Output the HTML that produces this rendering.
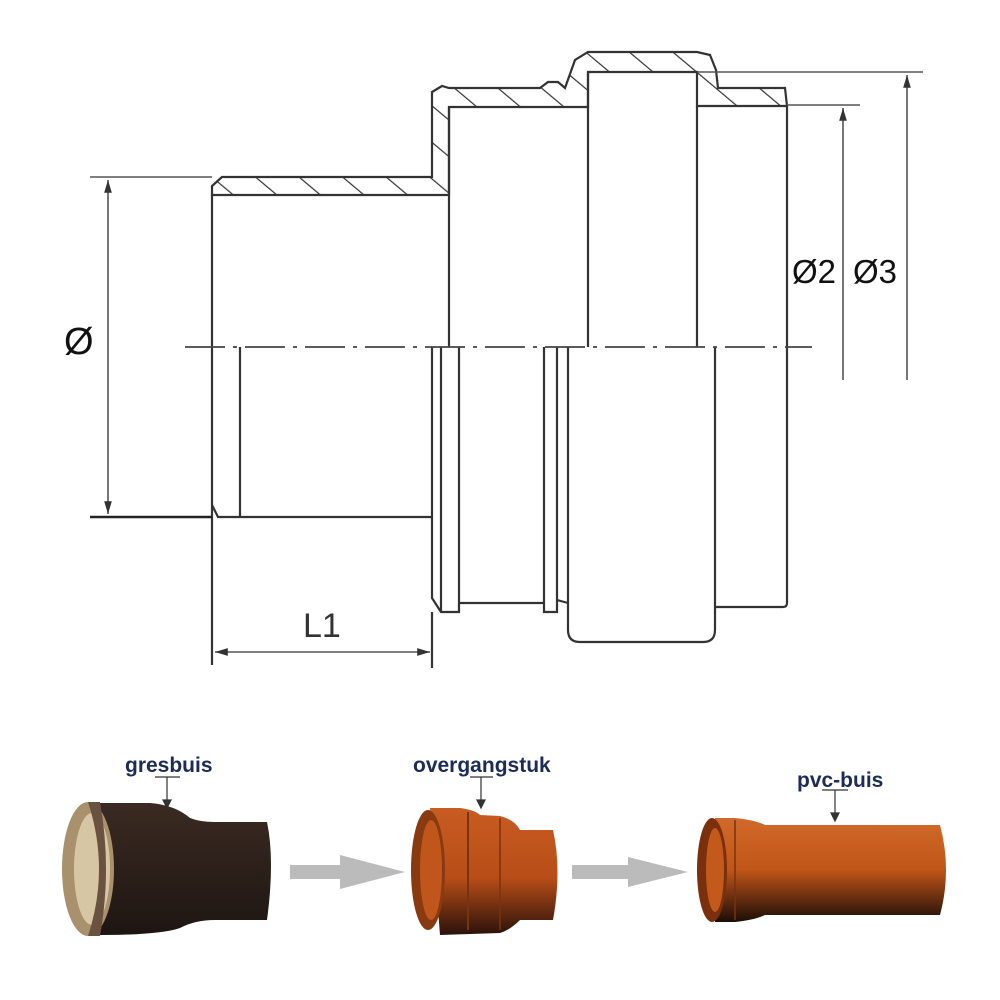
<!DOCTYPE html>
<html><head><meta charset="utf-8"><style>
html,body{margin:0;padding:0;background:#fff;}
svg{display:block;}
.l{stroke:#333;stroke-width:2.2;fill:none;}
.t{stroke:#555;stroke-width:1.6;fill:none;}
.lb{font-family:"Liberation Sans",sans-serif;font-weight:bold;fill:#1b2b5c;font-size:21px;}
</style></head><body>
<svg width="1000" height="1000" viewBox="0 0 1000 1000" xmlns="http://www.w3.org/2000/svg">
<defs>
<pattern id="h" patternUnits="userSpaceOnUse" width="28" height="28" patternTransform="rotate(-50)">
<rect width="28" height="28" fill="#fff"/><line x1="0" y1="0" x2="0" y2="28" stroke="#333" stroke-width="2.4"/></pattern>
<linearGradient id="br" x1="0" y1="0" x2="0" y2="1"><stop offset="0" stop-color="#3a2a22"/><stop offset="1" stop-color="#1e1512"/></linearGradient>
<linearGradient id="or" x1="0" y1="0" x2="0" y2="1"><stop offset="0" stop-color="#c85c22"/><stop offset="0.55" stop-color="#b84d18"/><stop offset="1" stop-color="#2a120a"/></linearGradient>
<linearGradient id="or2" x1="0" y1="0" x2="0" y2="1"><stop offset="0" stop-color="#d06a2a"/><stop offset="0.5" stop-color="#c05518"/><stop offset="1" stop-color="#1c0d08"/></linearGradient>
<marker id="a" viewBox="0 0 10 10" refX="10" refY="5" markerWidth="8" markerHeight="8" orient="auto-start-reverse"><path d="M0,2 L10,5 L0,8 z" fill="#333"/></marker>
</defs>

<!-- hatched walls -->
<path d="M212,195 L212,186 L222,177 L432,177 L432,92 L442,86 L449,88 L449,88 L540,88 L548,82 L558,82 L565,88 L575,60 L588,52 L697,52 L710,55 L716,70 L718,88 L785,88 L787,106 L697,106 L697,72 L588,72 L588,107 L449,107 L449,195 Z" fill="url(#h)" stroke="#333" stroke-width="2.2"/>

<!-- top drawing lines -->
<g class="l">
<line x1="212" y1="195" x2="212" y2="665"/>
<path d="M212,505 L218,517 L240,517"/>
<line x1="240" y1="347" x2="240" y2="517"/>
<line x1="240" y1="517" x2="432" y2="517"/>
<line x1="449" y1="107" x2="449" y2="347"/>
<line x1="588" y1="72" x2="588" y2="347"/>
<line x1="697" y1="106" x2="697" y2="347"/>
<line x1="787" y1="106" x2="787" y2="347"/>
<path d="M432,347 L432,598 L441,612 L459,612 L459,347"/>
<line x1="441" y1="347" x2="441" y2="612"/>
<line x1="459" y1="603" x2="544" y2="603"/>
<path d="M544,347 L544,612 L557,612 L557,347"/>
<path d="M557,600 L568,603"/>
<path d="M568,347 L568,630 Q568,642 580,642 L703,642 Q715,642 715,630 L715,347"/>
<path d="M715,607 L783,607 Q787,607 787,603 L787,347"/>
<line x1="432" y1="612" x2="432" y2="668"/>
</g>
<!-- centerline -->
<line x1="185" y1="347" x2="812" y2="347" stroke="#444" stroke-width="1.8" stroke-dasharray="40,8,4,8"/>

<!-- dimensions -->
<g class="t">
<line x1="90" y1="177" x2="212" y2="177"/>
<line x1="90" y1="517" x2="212" y2="517" stroke-width="2.4" stroke="#222"/>
<line x1="108" y1="180" x2="108" y2="514" marker-start="url(#a)" marker-end="url(#a)"/>
<line x1="215" y1="652" x2="430" y2="652" marker-start="url(#a)" marker-end="url(#a)"/>
<line x1="697" y1="72" x2="923" y2="72"/>
<line x1="787" y1="105" x2="860" y2="105"/>
<line x1="843" y1="108" x2="843" y2="380" marker-start="url(#a)"/>
<line x1="907" y1="75" x2="907" y2="380" marker-start="url(#a)"/>
</g>
<text x="64" y="354" font-family="Liberation Sans,sans-serif" font-size="38" fill="#111">Ø</text>
<text x="303" y="637" font-family="Liberation Sans,sans-serif" font-size="34" fill="#333">L1</text>
<text x="792" y="283" font-family="Liberation Sans,sans-serif" font-size="33" fill="#111">Ø2</text>
<text x="853" y="283" font-family="Liberation Sans,sans-serif" font-size="33" fill="#111">Ø3</text>

<!-- bottom labels -->
<text class="lb" x="125" y="772">gresbuis</text>
<text class="lb" x="413" y="772">overgangstuk</text>
<text class="lb" x="797" y="787">pvc-buis</text>
<g stroke="#333" stroke-width="1.2" fill="#333">
<line x1="155" y1="777" x2="180" y2="777"/><line x1="167" y1="777" x2="167" y2="800"/><path d="M163,800 L171,800 L167,808z"/>
<line x1="470" y1="777" x2="493" y2="777"/><line x1="481" y1="777" x2="481" y2="800"/><path d="M477,800 L485,800 L481,808z"/>
<line x1="822" y1="790" x2="848" y2="790"/><line x1="835" y1="790" x2="835" y2="815"/><path d="M831,813 L839,813 L835,821z"/>
</g>

<!-- gray arrows -->
<path d="M290,865 L340,865 L340,855 L405,872 L340,889 L340,879 L290,879 Z" fill="#bbb"/>
<path d="M572,865 L628,865 L628,857 L688,872 L628,887 L628,879 L572,879 Z" fill="#bbb"/>

<!-- gresbuis -->
<path d="M100,803 L150,803 Q175,805 190,818 Q200,822 215,822 L267,822 Q275,860 267,920 L215,920 Q195,920 180,928 Q160,935 100,935 Z" fill="url(#br)"/>
<ellipse cx="88" cy="869" rx="26" ry="67" fill="#a8916c"/>
<ellipse cx="92" cy="869" rx="18" ry="56" fill="#d7c6a4"/>
<path d="M88,802 L100,802 Q112,869 100,936 L88,936 Q110,869 88,802 Z" fill="#6a5240"/>

<!-- overgangstuk -->
<path d="M430,808 L460,808 Q475,810 480,815 L500,816 Q515,820 520,830 L553,830 Q562,870 553,920 L520,920 Q510,930 500,933 L440,935 Z" fill="url(#or)"/>
<ellipse cx="428" cy="870" rx="17" ry="60" fill="#8a3a10"/>
<ellipse cx="431" cy="870" rx="11" ry="50" fill="#c0561c"/>
<line x1="468" y1="812" x2="468" y2="930" stroke="#7a3210" stroke-width="2"/>
<line x1="500" y1="818" x2="500" y2="930" stroke="#7a3210" stroke-width="1.5"/>

<!-- pvc-buis -->
<path d="M715,818 L735,818 Q755,820 765,825 L940,825 Q952,870 940,915 L765,915 Q755,920 735,922 L715,922 Z" fill="url(#or2)"/>
<ellipse cx="712" cy="870" rx="15" ry="52" fill="#7a300c"/>
<ellipse cx="715" cy="870" rx="9" ry="42" fill="#c35a1c"/>
<line x1="735" y1="820" x2="735" y2="920" stroke="#7a3210" stroke-width="1.5"/>
</svg>
</body></html>
